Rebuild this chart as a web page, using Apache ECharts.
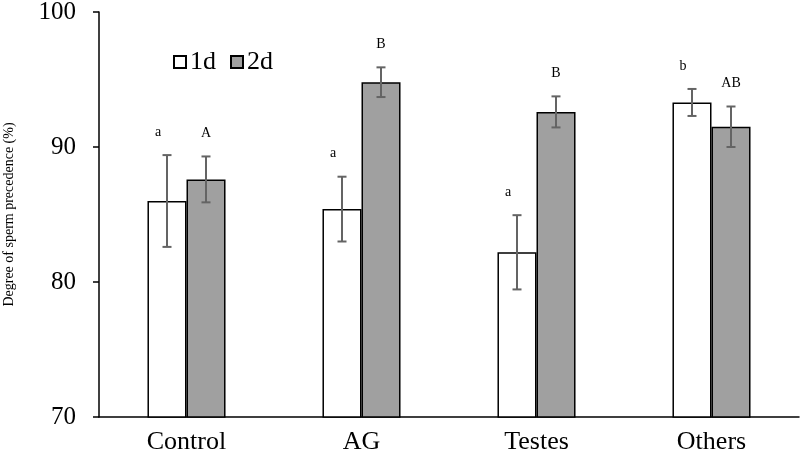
<!DOCTYPE html>
<html>
<head>
<meta charset="utf-8">
<script src="https://cdn.jsdelivr.net/npm/echarts@6/dist/echarts.min.js"></script>
<style>html,body{margin:0;padding:0;background:#fff;}#c{width:800px;height:458px;}</style>
</head>
<body>
<div id="c"></div>
<script>
var categories = ['Control', 'AG', 'Testes', 'Others'];
var seriesNames = ['1d', '2d'];
var values1d = [86.0, 85.4, 82.2, 93.3];
var values2d = [87.6, 94.8, 92.6, 91.5];
var err1d = [3.4, 2.4, 2.75, 1.0];
var err2d = [1.7, 1.1, 1.15, 1.5];
var letters1d = ['a', 'a', 'a', 'b'];
var letters2d = ['A', 'B', 'B', 'AB'];
var yTicks = [70, 80, 90, 100];

var FONT = '"Liberation Serif", "Times New Roman", serif';
var chart = echarts.init(document.getElementById('c'), null, {renderer: 'canvas'});

function errData(vals, errs, letters) {
  return vals.map(function (v, i) { return [i, v - errs[i], v + errs[i], letters[i]]; });
}

function errSeries(name, vals, errs, letters, side, labelDx) {
  return {
    type: 'custom',
    name: name + '_err',
    data: errData(vals, errs, letters),
    z: 5,
    silent: true,
    encode: {x: 0, y: [1, 2]},
    renderItem: function (params, api) {
      var idx = api.value(0);
      var lo = api.coord([idx, api.value(1)]);
      var hi = api.coord([idx, api.value(2)]);
      var band = api.size([1, 0])[0];
      var x = lo[0] + side * band * 0.1114;
      var cap = 4.5;
      var st = {stroke: '#646464', lineWidth: 2};
      return {
        type: 'group',
        children: [
          {type: 'line', shape: {x1: x, y1: lo[1], x2: x, y2: hi[1]}, style: st},
          {type: 'line', shape: {x1: x - cap, y1: lo[1], x2: x + cap, y2: lo[1]}, style: st},
          {type: 'line', shape: {x1: x - cap, y1: hi[1], x2: x + cap, y2: hi[1]}, style: st},
          {type: 'text', x: x + labelDx, y: hi[1] - 23, style: {
            text: letters[idx], fill: '#000', font: '14px ' + FONT,
            align: 'center', verticalAlign: 'middle'}}
        ]
      };
    }
  };
}

chart.setOption({
  animation: false,
  backgroundColor: '#fff',
  grid: {left: 99, right: 1, top: 12, bottom: 41, containLabel: false, outerBoundsMode: 'none'},
  legend: {
    data: seriesNames,
    left: 168, top: 44,
    icon: 'rect', itemWidth: 12, itemHeight: 12, itemGap: 14,
    textStyle: {fontFamily: FONT, fontSize: 26, color: '#000', padding: [0, 0, 0, -1]}
  },
  xAxis: {
    type: 'category',
    data: categories,
    axisLine: {lineStyle: {color: '#000', width: 1.5}},
    axisTick: {show: false},
    axisLabel: {fontFamily: FONT, fontSize: 26, color: '#000', margin: 12}
  },
  yAxis: {
    type: 'value',
    min: yTicks[0], max: yTicks[yTicks.length - 1], interval: 10,
    name: 'Degree of sperm precedence (%)',
    nameLocation: 'middle',
    nameGap: 83,
    nameRotate: 90,
    nameTextStyle: {fontFamily: FONT, fontSize: 14, color: '#000'},
    axisLine: {show: true, lineStyle: {color: '#000', width: 1.5}},
    axisTick: {show: true, inside: false, length: 6, lineStyle: {color: '#000', width: 1.5}},
    splitLine: {show: false},
    axisLabel: {fontFamily: FONT, fontSize: 25, color: '#000', margin: 23}
  },
  series: [
    {
      name: seriesNames[0], type: 'bar', data: values1d,
      barWidth: '22.3%', barGap: '0%',
      itemStyle: {color: '#ffffff', borderColor: '#000', borderWidth: 1.5}
    },
    {
      name: seriesNames[1], type: 'bar', data: values2d,
      barWidth: '22.3%', barGap: '0%',
      itemStyle: {color: '#a0a0a0', borderColor: '#000', borderWidth: 1.5}
    },
    errSeries('1d', values1d, err1d, letters1d, -1, -9),
    errSeries('2d', values2d, err2d, letters2d, 1, 0)
  ]
});
</script>
</body>
</html>
